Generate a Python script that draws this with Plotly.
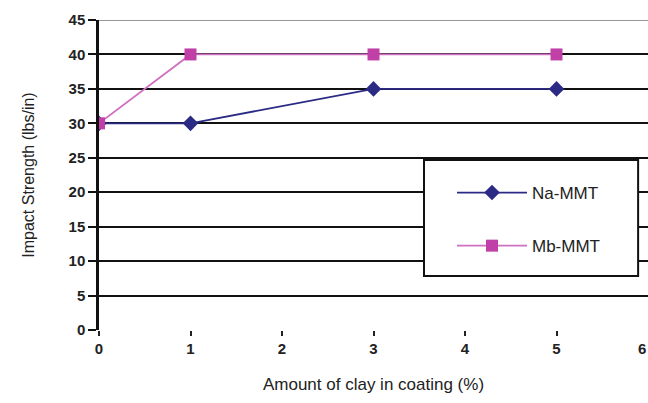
import plotly.graph_objects as go

x_vals = [0, 1, 3, 5]
na_mmt = [30, 30, 35, 35]
mb_mmt = [30, 40, 40, 40]
x_ticks = [0, 1, 2, 3, 4, 5]
y_ticks = [0, 5, 10, 15, 20, 25, 30, 35, 40, 45]

tick_font = dict(size=15, family="Liberation Sans, Arial", weight="bold", color="#222")

fig = go.Figure()
fig.add_trace(go.Scatter(x=x_vals, y=na_mmt, name="Na-MMT", mode="lines+markers",
                         line=dict(color="#2b2b86", width=1.8),
                         marker=dict(symbol="diamond", size=12, color="#2b2b86"),
                         legendgroup="a"))
fig.add_trace(go.Scatter(x=x_vals, y=mb_mmt, name="Mb-MMT", mode="lines+markers",
                         line=dict(color="#d070c0", width=1.8),
                         marker=dict(symbol="square", size=12, color="#c040a8"),
                         legendgroup="b"))

fig.add_shape(type="line", xref="paper", yref="y", x0=0, x1=1, y0=45, y1=45,
              line=dict(color="#999999", width=2), layer="above")

# legend frame
fig.add_shape(type="rect", xref="paper", yref="paper", x0=0.592, x1=0.982, y0=0.174, y1=0.548,
              line=dict(color="#111111", width=2), fillcolor="white", layer="above")

# last x tick label at the right edge
fig.add_annotation(x=6, y=0, xref="x", yref="y", text="6", showarrow=False,
                   yshift=-18, xanchor="right", font=tick_font)

fig.update_layout(
    width=648, height=403,
    margin=dict(l=99, r=0, t=20, b=73),
    paper_bgcolor="white", plot_bgcolor="white",
    font=dict(family="Liberation Sans, Arial, sans-serif", color="#222222", size=13),
    showlegend=True,
    legend=dict(x=0.643, y=0.50, xanchor="left", yanchor="top",
                borderwidth=0, bgcolor="rgba(0,0,0,0)",
                font=dict(size=17), tracegroupgap=28,
                itemwidth=70),
    xaxis=dict(range=[0, 6], tickvals=x_ticks, showgrid=False, zeroline=False,
               showline=False, ticks="outside", ticklen=5, tickwidth=2, tickcolor="#222",
               tickfont=tick_font,
               title=dict(text="Amount of clay in coating (%)", font=dict(size=17), standoff=22)),
    yaxis=dict(range=[0, 45], tickvals=y_ticks, showgrid=True, gridcolor="#111111", gridwidth=2,
               zeroline=False, showline=True, linecolor="#111111", linewidth=2.5,
               ticks="outside", ticklen=8, tickwidth=2, tickcolor="#111",
               tickfont=tick_font,
               title=dict(text="Impact Strength (lbs/in)", font=dict(size=16), standoff=30)),
)

fig.write_html("out.html")
